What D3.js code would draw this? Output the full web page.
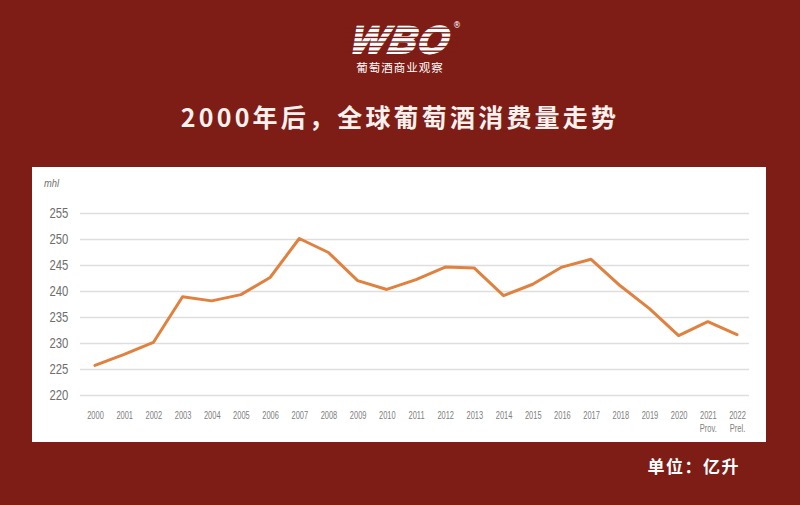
<!DOCTYPE html>
<html><head><meta charset="utf-8">
<script src="https://cdn.jsdelivr.net/npm/d3@7"></script>
<style>html,body{margin:0;padding:0;background:#7e1c16;}svg{display:block;}</style>
</head><body>
<script>
const years = ["2000","2001","2002","2003","2004","2005","2006","2007","2008","2009","2010","2011","2012","2013","2014","2015","2016","2017","2018","2019","2020","2021","2022"];
const subLabels = {"2021":"Prov.","2022":"Prel."};
const consumption = [225.7,227.8,230.1,238.9,238.1,239.3,242.6,250.1,247.4,242.0,240.3,242.2,244.6,244.4,239.1,241.3,244.6,246.1,241.0,236.6,231.4,234.1,231.6];
const yTicks = [220,225,230,235,240,245,250,255];

const W=800,H=505;
const svg=d3.select("body").append("svg").attr("width",W).attr("height",H);
svg.append("rect").attr("width",W).attr("height",H).attr("fill","#7e1c16");

// logo
const logo=svg.append("g");
logo.append("text").attr("x",400).attr("y",53).attr("text-anchor","middle")
  .attr("font-family","Liberation Sans, Arial, sans-serif").attr("font-weight","bold").attr("font-style","italic")
  .attr("font-size",38).attr("fill","#ffffff").attr("stroke","#ffffff").attr("stroke-width",2.2)
  .attr("letter-spacing","2").attr("transform","skewX(-12) translate(10,0)").text("WBO");
for(let i=0;i<6;i++){
  logo.append("rect").attr("x",345).attr("y",27.5+i*4.6).attr("width",115).attr("height",1.4).attr("fill","#7e1c16");
}
logo.append("text").attr("x",453).attr("y",28).attr("font-size",8).attr("fill","#fff").attr("font-family","DejaVu Sans").text("®");
svg.append("text").attr("x",400).attr("y",72).attr("text-anchor","middle")
  .attr("font-family","Noto Sans CJK SC").attr("font-size",11.5).attr("fill","#fff").attr("letter-spacing","1").text("葡萄酒商业观察");

svg.append("text").attr("x",400).attr("y",127).attr("text-anchor","middle")
  .attr("font-family","Noto Sans CJK SC").attr("font-weight","bold").attr("font-size",25).attr("fill","#f8f1ee").attr("letter-spacing","3.2")
  .text("2000年后，全球葡萄酒消费量走势");

// panel
svg.append("rect").attr("x",32).attr("y",167).attr("width",734).attr("height",275).attr("fill","#ffffff");

const x=d3.scalePoint().domain(years).range([95,737]);
const y=d3.scaleLinear().domain([220,255]).range([395,213]);

const grid=svg.append("g").attr("transform","translate(80,0)")
  .call(d3.axisLeft(y).tickValues(yTicks).tickSize(-669).tickPadding(12));
grid.select(".domain").remove();
grid.selectAll(".tick line").attr("stroke","#dedede").attr("stroke-width",1.3);
grid.selectAll(".tick text").attr("fill","#6e6e6e").attr("font-family","Liberation Sans, sans-serif")
  .attr("font-size",14.5).attr("x",-15).attr("transform","scale(0.78,1)");

svg.append("text").attr("x",44).attr("y",187).attr("font-family","Liberation Sans, sans-serif")
  .attr("font-style","italic").attr("font-size",11).attr("fill","#707070").attr("transform","translate(44,0) scale(0.85,1) translate(-44,0)").text("mhl");

const xa=svg.append("g").attr("transform","translate(0,405)")
  .call(d3.axisBottom(x).tickSize(0).tickPadding(6));
xa.select(".domain").remove();
xa.selectAll(".tick text").attr("fill","#808080").attr("font-family","Liberation Sans, sans-serif").attr("font-size",11)
  .attr("transform","scale(0.68,1)");
xa.selectAll(".tick").filter(d=>subLabels[d]).append("text").attr("y",27).attr("fill","#808080").attr("text-anchor","middle")
  .attr("font-family","Liberation Sans, sans-serif").attr("font-size",10.5).attr("transform","scale(0.72,1)").text(d=>subLabels[d]);

const line=d3.line().x((d,i)=>x(years[i])).y(d=>y(d));
svg.append("path").datum(consumption).attr("d",line).attr("fill","none")
  .attr("stroke","#e0813f").attr("stroke-width",3).attr("stroke-linejoin","round").attr("stroke-linecap","round");

svg.append("text").attr("x",740).attr("y",473).attr("text-anchor","end")
  .attr("font-family","Noto Sans CJK SC").attr("font-weight","bold").attr("font-size",17).attr("letter-spacing","1.5").attr("fill","#fff").text("单位：亿升");
</script>
</body></html>
